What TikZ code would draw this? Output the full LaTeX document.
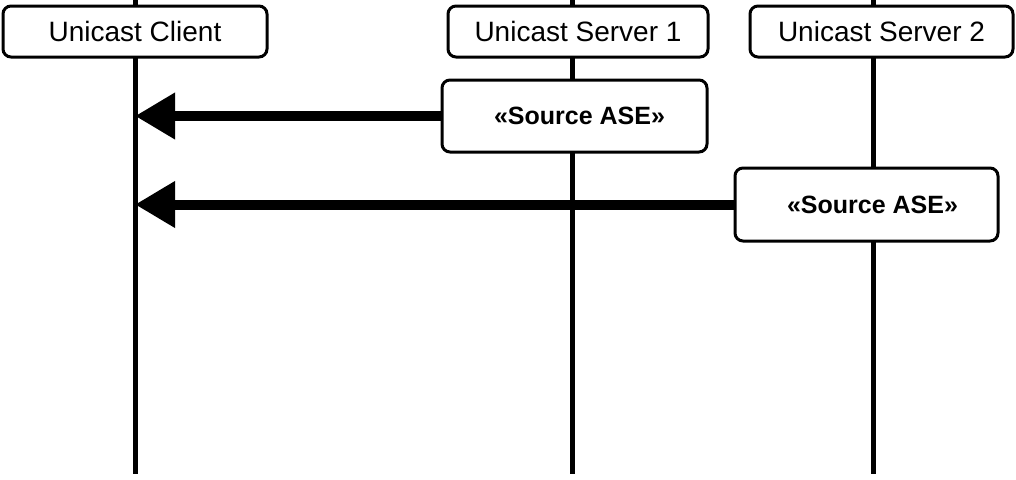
\documentclass[tikz,border=0pt]{standalone}
\usepackage{fontspec}
\setmainfont{Liberation Sans}
\usetikzlibrary{arrows.meta, positioning}
\tikzset{
  headbox/.style={draw, line width=3pt, fill=white, rounded corners=8pt, minimum height=51pt, inner sep=0pt, font=\fontsize{28}{32}\selectfont},
  asebox/.style={draw, line width=3pt, fill=white, rounded corners=8pt, minimum width=264pt, minimum height=72pt, inner sep=0pt, font=\bfseries\fontsize{25}{28}\selectfont},
  lifeline/.style={line width=5pt},
  msgarrow/.style={-{Triangle[length=40pt, width=44pt]}, line width=10pt}
}
\begin{document}
\begin{tikzpicture}[x=1pt, y=-1pt]
    \useasboundingbox (0,0) rectangle (1016,479);
    % lifelines
    \coordinate (clienttop) at (135,0);
    \coordinate (clientbot) at (135,474);
    \coordinate (srvatop) at (572,0);
    \coordinate (srvabot) at (572,474);
    \coordinate (srvbtop) at (873,0);
    \coordinate (srvbbot) at (873,474);
    \draw[lifeline] (clienttop) -- (clientbot);
    \draw[lifeline] (srvatop) -- (srvabot);
    \draw[lifeline] (srvbtop) -- (srvbbot);
    % participants
    \node[headbox, minimum width=264pt] (client) at (135,31.5) {Unicast Client};
    \node[headbox, minimum width=260pt] (srva) at (578,31.5) {Unicast Server 1};
    \node[headbox, minimum width=263pt] (srvb) at (881.5,31.5) {Unicast Server 2};
    % messages
    \node[asebox, minimum width=265pt] (asea) at (574.5,116) {\hspace{10pt}«Source ASE»};
    \node[asebox, minimum width=263pt, minimum height=73pt] (aseb) at (866.5,204.5) {\hspace{12pt}«Source ASE»};
    \draw[msgarrow] (asea.west) -- (asea.west -| clientbot);
    \draw[msgarrow] (aseb.west) -- (aseb.west -| clientbot);
\end{tikzpicture}
\end{document}
